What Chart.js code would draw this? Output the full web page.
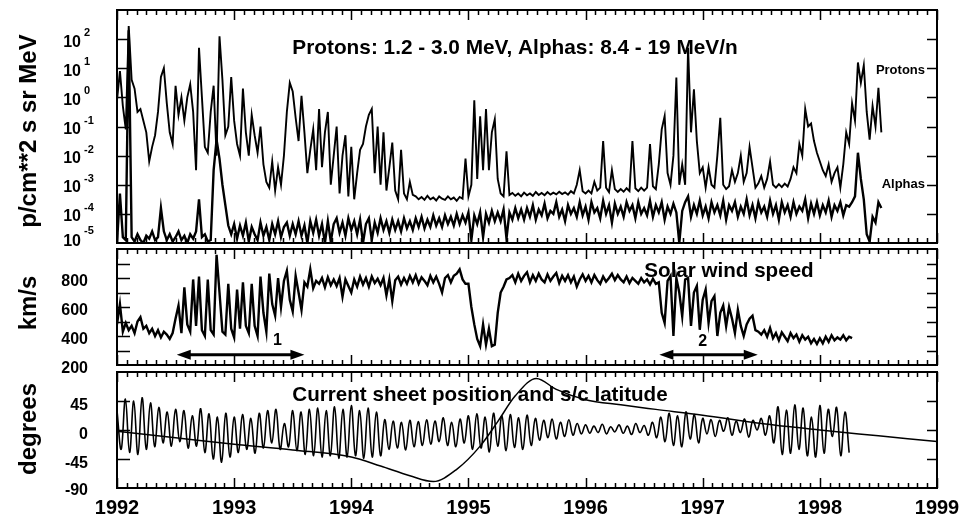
<!DOCTYPE html>
<html>
<head>
<meta charset="utf-8">
<title>Ulysses: particles, solar wind and current sheet</title>
<script src="https://cdn.jsdelivr.net/npm/chart.js@4.4.1/dist/chart.umd.min.js"></script>
<style>
  html, body { margin: 0; padding: 0; background: #fff; }
  #wrap { position: relative; width: 965px; height: 519px; }
  #wrap canvas { position: absolute; left: 0; top: 0; }
</style>
</head>
<body>
<div id="wrap">
  <canvas id="cFlux" width="965" height="519"></canvas>
  <canvas id="cWind" width="965" height="519"></canvas>
  <canvas id="cSheet" width="965" height="519"></canvas>
</div>
<script>
// Sampling: flux and wind every 0.025 yr (~9 days) from 1992.0
const t0 = 1992.0;
const step = 0.025;

// log10 of proton intensity, 1.2 - 3.0 MeV
const protonExp = [
  -0.1, 0.9, -0.3, -1.1, 2.45, 0.6, 0.3, -0.5, -0.4, -0.8,
  -1.2, -2.2, -1.7, -1.3, -0.5, 0.7, 1.0, -0.2, -1.2, -1.6,
  0.4, -0.6, 0.0, -0.8, 0.0, 0.45, -0.5, -2.5, 1.7, 0.0,
  -1.7, -1.9, -0.5, 0.4, -2.0, 2.1, 0.6, -1.3, -1.0, 0.7,
  -0.8, -1.6, -2.0, 0.3, -1.2, -2.0, -0.6, -1.3, -1.9, -1.0,   // 1993
  -2.3, -2.9, -3.1, -2.2, -3.2, -2.4, -3.0, -2.0, -0.5, 0.5,
  0.2, -0.7, -1.5, 0.05, -1.2, -2.6, -1.8, -1.1, -2.5, -0.4,
  -2.4, -1.2, -0.5, -3.0, -2.0, -1.0, -3.3, -2.0, -1.3, -3.4,
  -1.7, -3.5, -2.6, -1.8, -1.6, -1.0, -0.6, -0.4, -2.6, -1.0,  // 1994
  -3.0, -1.2, -3.2, -2.4, -1.55, -3.2, -3.5, -1.8, -3.3, -3.5,
  -2.9, -3.35, -3.4, -3.5, -3.42, -3.52, -3.38, -3.5, -3.44, -3.54,
  -3.4, -3.48, -3.52, -3.4, -3.5, -3.44, -3.55, -3.42, -3.48, -2.1,
  -3.4, -3.0, -0.1, -2.8, -0.65, -2.5, -0.4, -2.5, -1.2, -0.75, // 1995
  -2.8, -3.3, -3.4, -1.85, -3.35, -3.28, -3.38, -3.3, -3.4, -3.27,
  -3.36, -3.3, -3.38, -3.25, -3.35, -3.28, -3.36, -3.25, -3.34, -3.27,
  -3.33, -3.24, -3.32, -3.26, -3.34, -3.22, -3.3, -3.0, -2.5, -3.22,
  -3.3, -3.2, -3.3, -2.9, -3.2, -3.1, -1.5, -3.1, -3.25, -2.5,  // 1996
  -3.15, -3.25, -3.15, -3.24, -3.12, -3.22, -1.5, -3.12, -3.22, -3.1,
  -3.2, -3.1, -1.6, -3.05, -3.15, -2.3, -1.1, -0.64, -2.6, -3.0,
  -2.0, 0.68, -3.0, -2.3, -3.0, 1.7, -1.2, 0.28, -1.5, -2.6,
  -2.4, -3.1, -2.4, -3.0, -3.1, -2.0, -0.7, -3.0, -3.15, -3.05, // 1997
  -2.5, -2.9, -2.6, -2.0, -2.9, -2.6, -1.7, -2.4, -3.1, -2.95,
  -2.7, -3.1, -2.8, -2.2, -3.0, -3.1, -2.98, -3.08, -2.96, -3.06,
  -2.8, -2.4, -2.6, -1.6, -2.0, -0.4, -1.0, -0.9, -1.5, -1.9,
  -2.2, -2.5, -2.7, -2.3, -2.9, -2.6, -2.4, -3.1, -2.3, -1.2,  // 1998
  -1.6, -0.2, -0.8, 1.2, 0.5, 1.1, -0.5, -1.45, -0.3, -1.0, 0.33, -1.2
];

// log10 of alpha intensity, 8.4 - 19 MeV/n
const alphaExp = [
  -5.0, -3.3, -4.8, -4.9, 2.3, -4.8, -4.95, -4.7, -4.9, -5.0,
  -4.75, -4.85, -4.6, -4.9, -4.8, -3.8, -4.6, -4.9, -4.7, -4.95,
  -4.8, -4.6, -4.9, -4.75, -5.0, -4.7, -4.85, -4.6, -3.5, -4.8,
  -4.7, -4.95, -4.9, -2.5, -1.45, -2.1, -3.0, -3.7, -4.4, -4.7,
  -4.35, -4.85, -4.4, -4.75, -4.3, -4.95, -4.45, -4.7, -4.9, -4.3,
  -4.75, -4.45, -4.9, -4.35, -4.7, -4.25, -4.8, -4.45, -4.3, -4.75,
  -4.35, -4.7, -4.25, -4.75, -4.4, -5.0, -4.25, -4.65, -4.2, -4.75,
  -4.35, -5.0, -4.25, -4.95, -4.35, -4.15, -4.65, -4.3, -4.75, -4.15,
  -4.55, -4.25, -4.7, -4.2, -5.0, -4.35, -4.15, -4.9, -4.3, -4.65,
  -4.15, -4.55, -4.25, -4.65, -4.2, -4.55, -4.25, -4.6, -4.15, -4.5,
  -4.25, -4.55, -4.15, -4.45, -4.1, -4.5, -4.2, -4.45, -4.05, -4.4,
  -4.15, -4.45, -4.05, -4.35, -4.1, -4.4, -4.0, -4.35, -4.05, -4.3,
  -3.95, -4.9, -4.05, -4.35, -3.95, -4.8, -4.0, -4.3, -3.9, -4.25,
  -3.95, -4.25, -3.85, -4.85, -3.95, -4.2, -3.8, -4.15, -3.85, -4.2,
  -3.8, -4.1, -3.7, -4.2, -3.85, -4.05, -3.65, -4.15, -3.9, -4.0,
  -3.6, -4.1, -3.85, -4.25, -3.7, -4.0, -3.8, -4.1, -3.6, -4.05,
  -3.75, -4.2, -3.6, -3.95, -3.8, -4.15, -3.55, -4.0, -3.7, -4.3,
  -3.65, -4.0, -3.75, -4.1, -3.6, -3.9, -3.7, -4.15, -3.6, -4.0,
  -3.8, -4.05, -3.55, -4.1, -3.7, -3.95, -3.6, -4.2, -3.75, -4.0,
  -3.65, -3.95, -5.0, -3.9, -3.6, -3.4, -4.1, -3.7, -4.0, -3.55,
  -4.05, -3.75, -4.15, -3.6, -3.95, -3.7, -4.05, -3.55, -4.2, -3.7,
  -3.9, -3.6, -4.1, -3.75, -4.0, -3.5, -4.05, -3.7, -4.15, -3.6,
  -3.95, -3.75, -4.1, -3.55, -4.0, -3.7, -4.2, -3.6, -3.95, -3.7,
  -4.1, -3.6, -4.0, -3.75, -3.9, -3.5, -4.15, -3.65, -4.0, -3.6,
  -4.05, -3.7, -3.95, -3.55, -4.1, -3.7, -3.9, -3.6, -4.05, -3.7,
  -3.75, -3.6, -3.4, -1.9, -2.8, -3.5, -4.7, -4.95, -4.1, -4.3,
  -3.6, -3.8
];

// solar wind speed, km/s
const windSpeed = [
  480, 620, 430, 490, 440, 470, 420, 500, 530, 450,
  470, 420, 450, 400, 440, 390, 430, 410, 380, 420,
  520, 610, 420, 735, 480, 430, 790, 470, 810, 440,
  400, 790, 440, 410, 960, 700, 430, 410, 760, 450,
  390, 720, 450, 770, 470, 420, 760, 470, 400, 810,   // 1993
  560, 430, 830, 620, 540, 800, 600, 780, 850, 650,
  570, 815, 700, 580, 770, 740, 860, 730, 780, 760,
  800, 735, 805, 750, 790, 745, 800, 670, 790, 745,
  700, 790, 740, 810, 755, 800, 740, 810, 765, 795,   // 1994
  750, 800, 680, 790, 640, 785, 810, 755, 800, 760,
  815, 770, 820, 760, 805, 780, 750, 815, 770, 810,
  760, 700, 800, 820, 770, 815, 830, 860, 790, 760,
  760, 600, 480, 380, 330, 480, 340, 450, 330, 340,   // 1995
  560, 700, 740, 790, 800, 820, 770, 830, 780, 815,
  840, 770, 820, 780, 830, 790, 770, 825, 780, 810,
  835, 765, 815, 780, 820, 770, 810, 740, 790, 825,
  780, 815, 770, 820, 785, 760, 810, 775, 800, 830,   // 1996
  785, 820, 790, 770, 810, 765, 800, 780, 760, 800,
  770, 790, 755, 795, 760, 770, 560, 490, 780, 814,
  400, 800, 700, 536, 790, 800, 470, 700, 745, 443,
  650, 720, 490, 640, 675, 400, 560, 610, 467, 600,   // 1997
  520, 420, 580, 470, 400, 480, 520, 540, 440, 430,
  410, 440, 395, 455, 385, 420, 370, 425, 395, 365,
  420, 385, 410, 360, 405, 375, 395, 350, 380, 345,
  385, 350, 395, 360, 405, 370, 390, 375, 405, 370,   // 1998
  395, 385
];

// current sheet crossings, extremes every 1/28 yr
const sheetStep = 1 / 28;
const sheetDeg = [
  30, -30, 48, -35, 45, -38, 50, -30, 42, -26,
  35, -20, 28, -25, 32, -18, 30, -28, 22, -25,
  33, -35, 25, -45, 20, -50, 26, -42, 20, -35,
  24, -30, 18, -36, 26, -28, 30, -20, 32, -30,
  10, -26, 30, -32, 28, -38, 32, -40, 34, -42,
  30, -40, 36, -44, 32, -42, 38, -40, 30, -44,
  34, -42, 28, -40, 16, -30, 14, -28, 12, -31,
  15, -26, 13, -24, 16, -22, 14, -18, 19, -24,
  12, -26, 17, -20, 22, -30, 25, -28, 20, -34,
  26, -25, 22, -32, 24, -27, 19, -30, 23, -24,
  18, -16, 15, -12, 17, -14, 12, -10, 16, -8,
  10, -6, 8, -5, 6, -4, 9, -6, 5, -3,
  8, -5, 6, -7, 10, -4, 7, -8, 12, -12,
  20, -18, 26, -24, 22, -26, 28, -14, 24, -20,
  18, -6, 16, -10, 15, -2, 19, -8, 14, -4,
  17, -11, 15, 0, 18, -8, 22, -20, 36, -38,
  31, -36, 39, -30, 34, -40, 20, -42, 38, -36,
  32, -10, 35, -40, 28, -35
];

// spacecraft heliographic latitude
const latYears = [1992.0, 1992.5, 1993.0, 1993.5, 1994.0, 1994.25, 1994.5, 1994.7, 1994.9,
  1995.1, 1995.25, 1995.4, 1995.58, 1995.75, 1996.0, 1996.3, 1996.6, 1997.0, 1997.5, 1998.0, 1998.5, 1999.0];
const latDeg = [-2, -12, -22, -31, -42, -56, -71, -80, -61,
  -25, 13, 53, 80, 63, 47, 39, 32, 23, 10, 0, -9, -18];

const yearLabels = ['1992', '1993', '1994', '1995', '1996', '1997', '1998', '1999'];
const fluxExpTicks = [2, 1, 0, -1, -2, -3, -4, -5];
const windTicks = [300, 400, 500, 600, 700, 800, 900];
const windLabels = [800, 600, 400, 200];
const sheetTicks = [45, 0, -45];
const sheetLabels = [45, 0, -45, -90];

const FONT = '"Liberation Sans", Arial, Helvetica, sans-serif';
const X_LEFT = 117, X_RIGHT = 937, H = 519;

function pts(vals, dt, f) {
  return vals.map((v, i) => ({ x: t0 + i * dt, y: f ? f(v) : v }));
}

function text(ctx, str, x, y, size, align) {
  ctx.font = 'bold ' + size + 'px ' + FONT;
  ctx.textAlign = align || 'center';
  ctx.textBaseline = 'middle';
  ctx.fillStyle = '#000';
  ctx.fillText(str, x, y);
}

function vtext(ctx, str, x, y, size) {
  ctx.save();
  ctx.translate(x, y);
  ctx.rotate(-Math.PI / 2);
  text(ctx, str, 0, 0, size);
  ctx.restore();
}

// box, monthly ticks on top/bottom, value ticks on both sides
function drawFrame(chart, yVals) {
  const { ctx, chartArea: a } = chart;
  const xs = chart.scales.x, ys = chart.scales.y;
  ctx.save();
  ctx.strokeStyle = '#000';
  ctx.lineWidth = 1.5;
  ctx.beginPath();
  for (let m = 0; m <= 84; m++) {
    const px = Math.round(xs.getPixelForValue(1992 + m / 12)) + 0.5;
    const len = m % 12 === 0 ? 10 : 5;
    ctx.moveTo(px, a.top); ctx.lineTo(px, a.top + len);
    ctx.moveTo(px, a.bottom); ctx.lineTo(px, a.bottom - len);
  }
  yVals.forEach(v => {
    const py = Math.round(ys.getPixelForValue(v)) + 0.5;
    ctx.moveTo(a.left, py); ctx.lineTo(a.left + 13, py);
    ctx.moveTo(a.right, py); ctx.lineTo(a.right - 10, py);
  });
  ctx.stroke();
  ctx.lineWidth = 2;
  ctx.strokeRect(a.left, a.top, a.right - a.left, a.bottom - a.top);
  ctx.restore();
}

function arrow(ctx, x1, x2, y) {
  ctx.save();
  ctx.strokeStyle = '#000';
  ctx.fillStyle = '#000';
  ctx.lineWidth = 3;
  ctx.beginPath();
  ctx.moveTo(x1 + 10, y); ctx.lineTo(x2 - 10, y);
  ctx.stroke();
  ctx.beginPath();
  ctx.moveTo(x1, y); ctx.lineTo(x1 + 14, y - 5); ctx.lineTo(x1 + 14, y + 5); ctx.closePath();
  ctx.moveTo(x2, y); ctx.lineTo(x2 - 14, y - 5); ctx.lineTo(x2 - 14, y + 5); ctx.closePath();
  ctx.fill();
  ctx.restore();
}

function makePanel(id, top, bottom, yScale, datasets, deco) {
  return new Chart(document.getElementById(id), {
    type: 'line',
    data: { datasets: datasets },
    options: {
      responsive: false,
      animation: false,
      events: [],
      layout: { padding: { left: X_LEFT, right: 965 - X_RIGHT, top: top, bottom: H - bottom } },
      scales: {
        x: { type: 'linear', min: 1992, max: 1999, display: false },
        y: Object.assign({ display: false }, yScale)
      },
      plugins: { legend: { display: false }, tooltip: { enabled: false } },
      elements: {
        point: { radius: 0 },
        line: { borderColor: '#000', borderWidth: 1.8, tension: 0 }
      }
    },
    plugins: [deco]
  });
}

// top panel: particle intensities
makePanel('cFlux', 10, 243,
  { type: 'logarithmic', min: 1e-5, max: 1e3 },
  [
    { data: pts(protonExp, step, e => Math.pow(10, e)), borderWidth: 1.9 },
    { data: pts(alphaExp, step, e => Math.pow(10, e)), borderWidth: 2.4 }
  ],
  {
    id: 'fluxDeco',
    afterDraw(chart) {
      const ctx = chart.ctx, ys = chart.scales.y;
      drawFrame(chart, fluxExpTicks.slice(0, 7).map(e => Math.pow(10, e)));
      fluxExpTicks.forEach(e => {
        const py = ys.getPixelForValue(Math.pow(10, e));
        const bottom = e === -5;
        text(ctx, '10', 81, py + (bottom ? -1 : 3), 16, 'right');
        text(ctx, String(e), 84, py + (bottom ? -12 : -6), 11, 'left');
      });
      text(ctx, 'Protons: 1.2 - 3.0 MeV, Alphas: 8.4 - 19 MeV/n', 515, 48, 20.8);
      text(ctx, 'Protons', 925, ys.getPixelForValue(10) + 2, 13, 'right');
      text(ctx, 'Alphas', 925, ys.getPixelForValue(1e-3), 13, 'right');
      vtext(ctx, 'p/cm**2 s sr MeV', 29, 131, 24);
    }
  });

// middle panel: solar wind speed
makePanel('cWind', 249, 365,
  { type: 'linear', min: 200, max: 1000 },
  [{ data: pts(windSpeed, step), borderWidth: 2.4 }],
  {
    id: 'windDeco',
    afterDraw(chart) {
      const ctx = chart.ctx, xs = chart.scales.x, ys = chart.scales.y;
      drawFrame(chart, windTicks);
      windLabels.forEach(v => text(ctx, String(v), 88, ys.getPixelForValue(v) + 4, 16, 'right'));
      const ay = ys.getPixelForValue(270);
      arrow(ctx, xs.getPixelForValue(1992.51), xs.getPixelForValue(1993.6), ay);
      arrow(ctx, xs.getPixelForValue(1996.63), xs.getPixelForValue(1997.47), ay);
      text(ctx, '1', xs.getPixelForValue(1993.37), ys.getPixelForValue(367), 16);
      text(ctx, '2', xs.getPixelForValue(1997.0), ys.getPixelForValue(362), 16);
      text(ctx, 'Solar wind speed', 729, 271, 20.6);
      vtext(ctx, 'km/s', 29, 303, 24);
    }
  });

// bottom panel: current sheet and spacecraft latitude
makePanel('cSheet', 372, 488,
  { type: 'linear', min: -90, max: 90 },
  [
    { data: pts(sheetDeg, sheetStep), borderWidth: 1.6, tension: 0.4 },
    { data: latYears.map((t, i) => ({ x: t, y: latDeg[i] })), borderWidth: 1.5,
      cubicInterpolationMode: 'monotone' }
  ],
  {
    id: 'sheetDeco',
    afterDraw(chart) {
      const ctx = chart.ctx, xs = chart.scales.x, ys = chart.scales.y;
      drawFrame(chart, sheetTicks);
      sheetLabels.forEach(v => text(ctx, String(v), 88, ys.getPixelForValue(v) + (v === -90 ? 3 : 5), 16, 'right'));
      yearLabels.forEach(y => text(ctx, y, xs.getPixelForValue(+y), 508, 20));
      text(ctx, 'Current sheet position and s/c latitude', 480, 395, 20.6);
      vtext(ctx, 'degrees', 29, 429, 24);
    }
  });
</script>
</body>
</html>
